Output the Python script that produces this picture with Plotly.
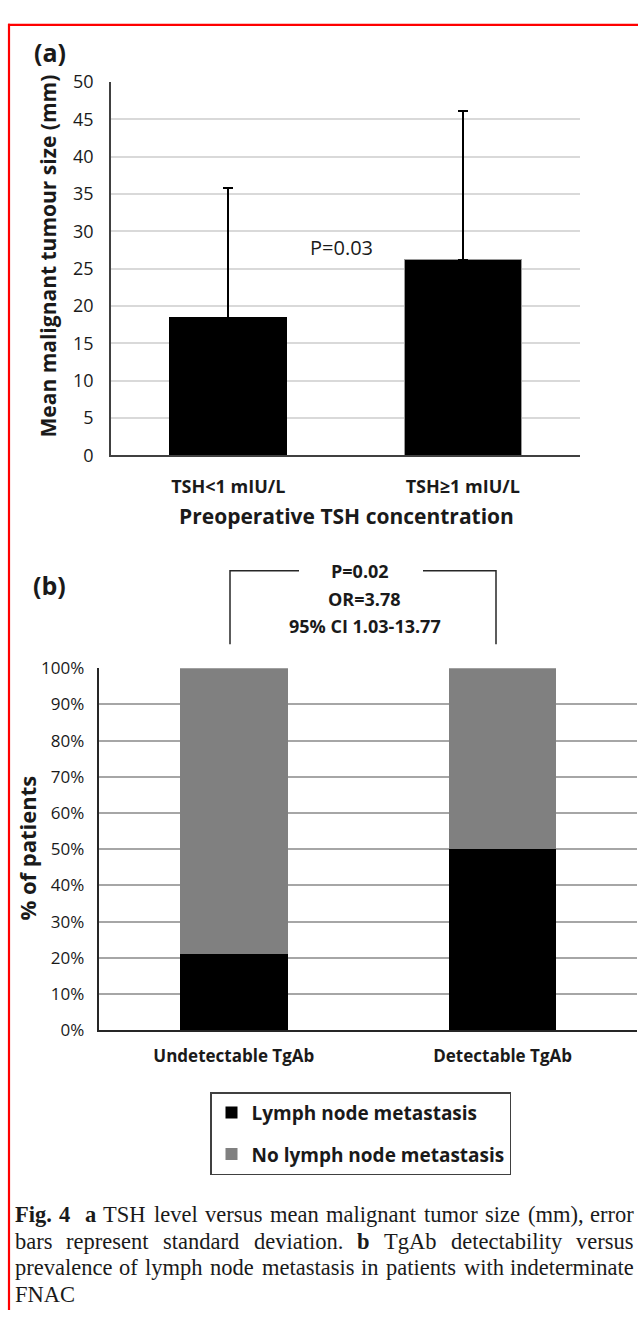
import plotly.graph_objects as go

# ---------------- data ----------------
tsh_groups = ["TSH<1 mIU/L", "TSH≥1 mIU/L"]
mean_size_mm = [18.4, 26.2]
sd_size_mm = [17.4, 19.9]
size_ticks = [0, 5, 10, 15, 20, 25, 30, 35, 40, 45, 50]

tgab_groups = ["Undetectable TgAb", "Detectable TgAb"]
lymph_met_pct = [21, 50]
no_lymph_met_pct = [79, 50]
pct_ticks = [0, 10, 20, 30, 40, 50, 60, 70, 80, 90, 100]
pct_labels = [f"{v}%" for v in pct_ticks]

W, H = 638, 1321


def px(x):
    return x / W


def py(y):
    return 1 - y / H


FONT = "Open Sans"
TXT = "#1a1a1a"

fig = go.Figure()

# panel (a)
fig.add_trace(go.Bar(
    x=tsh_groups, y=mean_size_mm, width=0.5,
    marker=dict(color="black", line=dict(color=["black", "#9a9a9a"], width=1.2)),
    error_y=dict(type="data", symmetric=False, array=sd_size_mm,
                 arrayminus=[0, 0], color="black", thickness=2, width=5),
    showlegend=False, xaxis="x", yaxis="y", hoverinfo="skip",
))

# panel (b)
fig.add_trace(go.Bar(
    x=tgab_groups, y=lymph_met_pct, width=0.4, name="Lymph node metastasis",
    marker=dict(color="black", line=dict(width=0)), legendgroup="g1",
    xaxis="x2", yaxis="y2",
))
fig.add_trace(go.Bar(
    x=tgab_groups, y=no_lymph_met_pct, width=0.4, name="No lymph node metastasis",
    marker=dict(color="#808080", line=dict(width=0)), legendgroup="g2",
    xaxis="x2", yaxis="y2",
))

fig.update_layout(
    width=W, height=H, margin=dict(l=0, r=0, t=0, b=0),
    paper_bgcolor="white", plot_bgcolor="white", barmode="stack",
    xaxis=dict(domain=[px(111), px(580)], range=[-0.5, 1.5], type="category",
               showline=True, linecolor="#404040", linewidth=1.5, showgrid=False,
               ticks="", ticklabelstandoff=14,
               tickfont=dict(family=FONT, size=18, color=TXT, weight="bold"),
               anchor="y"),
    yaxis=dict(domain=[py(450.5), py(70.3)], range=[0, 50], tickvals=size_ticks,
               showline=True, linecolor="#404040", linewidth=1.5,
               showgrid=True, gridcolor="#d9d9d9", gridwidth=1.5, zeroline=False,
               ticks="", ticklabelstandoff=12,
               tickfont=dict(family=FONT, size=18, color=TXT), anchor="x"),
    xaxis2=dict(domain=[px(99.4), px(637)], range=[-0.5, 1.5], type="category",
                showline=True, linecolor="#262626", linewidth=1.5, showgrid=False,
                ticks="", ticklabelstandoff=10,
                tickfont=dict(family=FONT, size=17, color=TXT, weight="bold"),
                anchor="y2"),
    yaxis2=dict(domain=[py(1036), py(667.3)], range=[0, 100], tickvals=pct_ticks,
                ticktext=pct_labels, showline=True, linecolor="#262626",
                linewidth=1.5, showgrid=True, gridcolor="#a6a6a6", gridwidth=1.5,
                zeroline=False, ticks="", ticklabelstandoff=10,
                tickfont=dict(family=FONT, size=17, color=TXT), anchor="x2"),
    legend=dict(x=px(210), y=py(1099), xanchor="left", yanchor="top",
                bordercolor="#404040", borderwidth=1.5, bgcolor="white",
                font=dict(family=FONT, size=19, color=TXT, weight="bold"),
                traceorder="grouped", tracegroupgap=14),
)

ann = []


def add_text(x, y, text, size, bold=False, family=FONT, angle=0, xanchor="center"):
    ann.append(dict(xref="paper", yref="paper", x=px(x), y=py(y), text=text,
                    showarrow=False, xanchor=xanchor, yanchor="middle",
                    textangle=angle, borderpad=0,
                    font=dict(family=family, size=size, color=TXT,
                              weight="bold" if bold else "normal")))


add_text(49.5, 40, "(a)", 25, bold=True)
add_text(48, 248, "Mean malignant tumour size (mm)", 21, bold=True, angle=-90)
add_text(346, 512, "Preoperative TSH concentration", 21, bold=True)
add_text(341, 239, "P=0.03", 20)

add_text(49.5, 583, "(b)", 25, bold=True)
add_text(27, 851, "% of patients", 22, bold=True, angle=-90)
add_text(360, 568, "P=0.02", 18, bold=True)
add_text(364, 597, "OR=3.78", 18, bold=True)
add_text(365, 624, "95% CI 1.03-13.77", 18, bold=True)

# --------- caption (justified, Times metrics) ---------
reg = {' ': 250, '(': 333, ')': 333, ',': 250, '-': 333, '.': 250,
       'A': 722, 'C': 667, 'F': 556, 'H': 722, 'N': 722, 'S': 556, 'T': 611,
       'a': 444, 'b': 500, 'c': 444, 'd': 500, 'e': 444, 'f': 333, 'g': 500,
       'h': 500, 'i': 278, 'k': 500, 'l': 278, 'm': 778, 'n': 500, 'o': 500,
       'p': 500, 'r': 333, 's': 389, 't': 278, 'u': 500, 'v': 500, 'w': 722,
       'y': 500, 'z': 444}
bld = {'F': 611, 'i': 278, 'g': 500, '.': 250, '4': 500, 'a': 500, 'b': 556}
CAP = 22.5
SERIF = "Liberation Serif"


def wwidth(word, bold):
    t = bld if bold else reg
    return sum(t.get(c, 500) for c in word) * CAP / 1000


lines = [
    [("Fig.", 1, 1), ("4", 1, 2), ("a", 1, 1), ("TSH", 0, 1), ("level", 0, 1),
     ("versus", 0, 1), ("mean", 0, 1), ("malignant", 0, 1), ("tumor", 0, 1),
     ("size", 0, 1), ("(mm),", 0, 1), ("error", 0, 0)],
    [("bars", 0, 1), ("represent", 0, 1), ("standard", 0, 1), ("deviation.", 0, 1),
     ("b", 1, 1), ("TgAb", 0, 1), ("detectability", 0, 1), ("versus", 0, 0)],
    [("prevalence", 0, 1), ("of", 0, 1), ("lymph", 0, 1), ("node", 0, 1),
     ("metastasis", 0, 1), ("in", 0, 1), ("patients", 0, 1), ("with", 0, 1),
     ("indeterminate", 0, 0)],
]
x0, x1 = 14, 635
line_y = [1224, 1251, 1278, 1305]
for li, words in enumerate(lines):
    total = sum(wwidth(w, b) for w, b, _ in words)
    nsp = sum(g for _, _, g in words)
    gap = (x1 - x0 - total) / nsp
    x = x0
    n = len(words)
    for i, (w, b, g) in enumerate(words):
        ww = wwidth(w, b)
        label = f"<b>{w}</b>" if b else w
        if i == 0:
            add_text(x0, line_y[li], label, CAP, family=SERIF, xanchor="left")
        elif i == n - 1:
            add_text(x1, line_y[li], label, CAP, family=SERIF, xanchor="right")
        else:
            add_text(x + ww / 2, line_y[li], label, CAP, family=SERIF)
        x += ww + gap * g
add_text(x0, line_y[3], "FNAC", CAP, family=SERIF, xanchor="left")

fig.update_layout(annotations=ann)

# shapes: bracket over panel (b) and red page marks
shapes = []
bc = dict(color="#262626", width=1.5)
for (xa, ya, xb, yb) in [(230, 568, 299, 568), (423, 568, 496, 568),
                         (230, 567.3, 230, 643), (496, 567.3, 496, 643)]:
    shapes.append(dict(type="line", xref="paper", yref="paper",
                       x0=px(xa), y0=py(ya), x1=px(xb), y1=py(yb), line=bc))
red = dict(color="#ff0000", width=2.2)
shapes.append(dict(type="line", xref="paper", yref="paper", x0=px(8), y0=py(12),
                   x1=1, y1=py(12), line=red))
shapes.append(dict(type="line", xref="paper", yref="paper", x0=px(9), y0=py(11),
                   x1=px(9), y1=0, line=red))
fig.update_layout(shapes=shapes)

# the page body has a default 8px margin; remove it so the figure fills the window
fig.write_html("out.html",
               config={"displayModeBar": False},
               post_script="document.body.style.margin='0';"
                           "document.body.style.overflow='hidden';")
